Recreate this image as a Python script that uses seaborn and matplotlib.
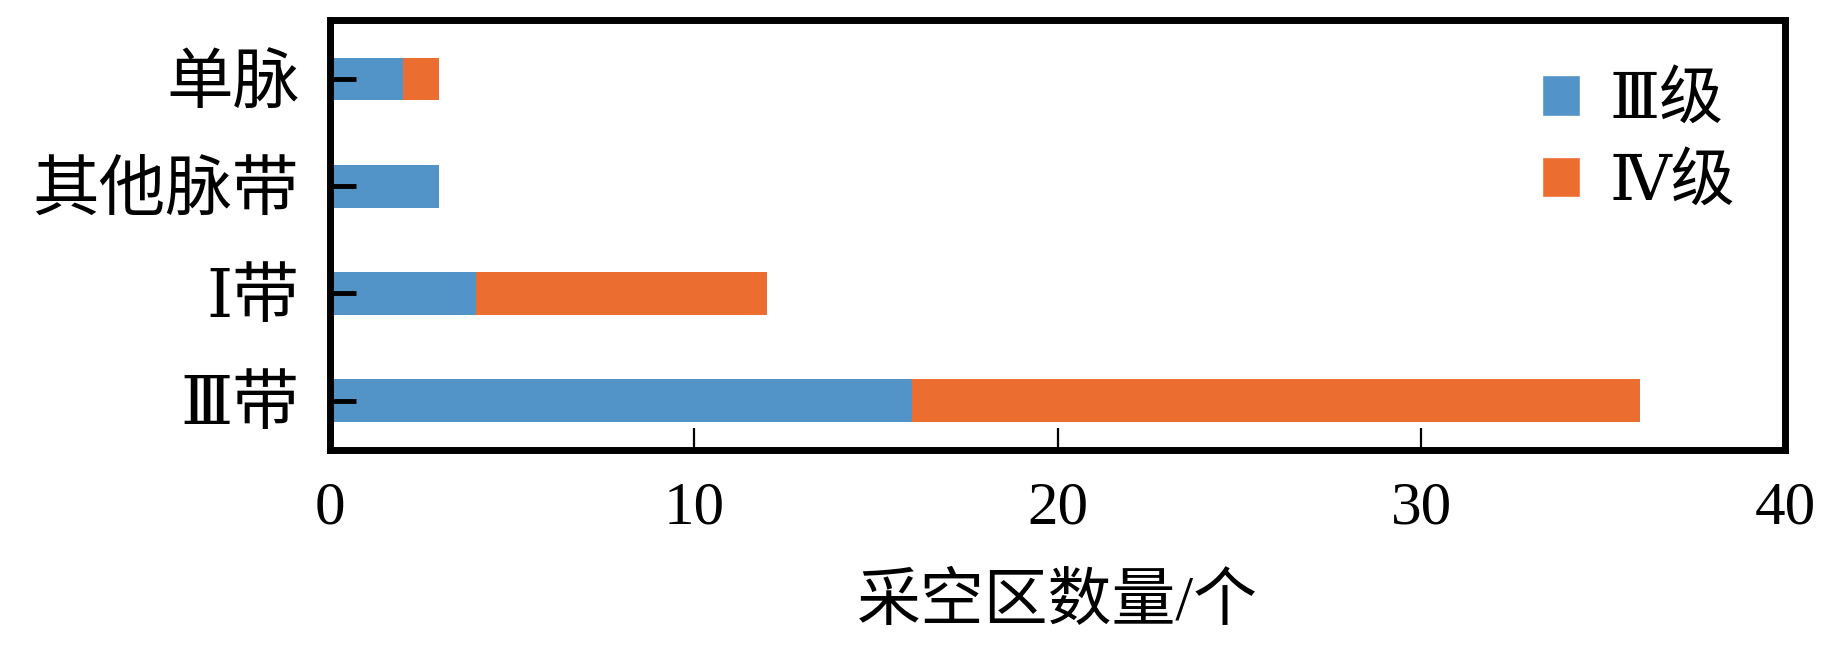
import numpy as np
import pandas as pd
import seaborn as sns
import matplotlib.pyplot as plt
from matplotlib.patches import Patch

categories = ['单脉', '其他脉带', 'Ⅰ带', 'Ⅲ带']
level3 = [2, 3, 4, 16]
level4 = [1, 0, 8, 20]
legend_labels = ['Ⅲ级', 'Ⅳ级']
x_ticks = [0, 10, 20, 30, 40]

blue = '#5294c7'
orange = '#ec6d30'

df = pd.DataFrame({'cat': categories, 'lvl3': level3, 'lvl4': level4})
df['total'] = df['lvl3'] + df['lvl4']

sns.set_style('white')
plt.rcParams['font.family'] = ['Liberation Serif', 'DejaVu Serif', 'Noto Sans CJK SC']
plt.rcParams['text.color'] = 'black'
plt.rcParams['xtick.color'] = 'black'
plt.rcParams['ytick.color'] = 'black'
plt.rcParams['axes.labelcolor'] = 'black'

fig = plt.figure(figsize=(18.43, 6.55), dpi=100)
ax = fig.add_axes([330 / 1843, 1 - 450 / 655, (1785 - 330) / 1843, (450 - 20) / 655])

# stacked bars: total first (orange), level III on top (blue)
sns.barplot(data=df, x='total', y='cat', orient='h', color=orange,
            width=0.4, saturation=1, errorbar=None, linewidth=0, ax=ax)
sns.barplot(data=df, x='lvl3', y='cat', orient='h', color=blue,
            width=0.4, saturation=1, errorbar=None, linewidth=0, ax=ax)

ax.set_axisbelow(False)
ax.set_xlim(0, 40)
ax.set_ylim(3.46, -0.55)
ax.set_xticks(x_ticks)
ax.set_xticklabels([str(t) for t in x_ticks], fontsize=44)
ax.set_ylabel('')
ax.set_xlabel('采空区数量/个', fontsize=46, labelpad=28)
for lbl in ax.get_yticklabels():
    lbl.set_fontsize(48)

ax.tick_params(axis='y', left=True, direction='in', length=19, width=3.5, pad=22)
ax.tick_params(axis='x', bottom=True, direction='in', length=16, width=1.6, pad=22)
for s in ax.spines.values():
    s.set_linewidth(5)
    s.set_color('black')

handles = [Patch(facecolor=blue), Patch(facecolor=orange)]
ax.legend(handles, legend_labels, loc='upper right', frameon=False,
          fontsize=46, handlelength=0.6, handleheight=0.6,
          handletextpad=0.45, labelspacing=0.35,
          bbox_to_anchor=(1.005, 1.01))

fig.savefig('out.png', dpi=100)
